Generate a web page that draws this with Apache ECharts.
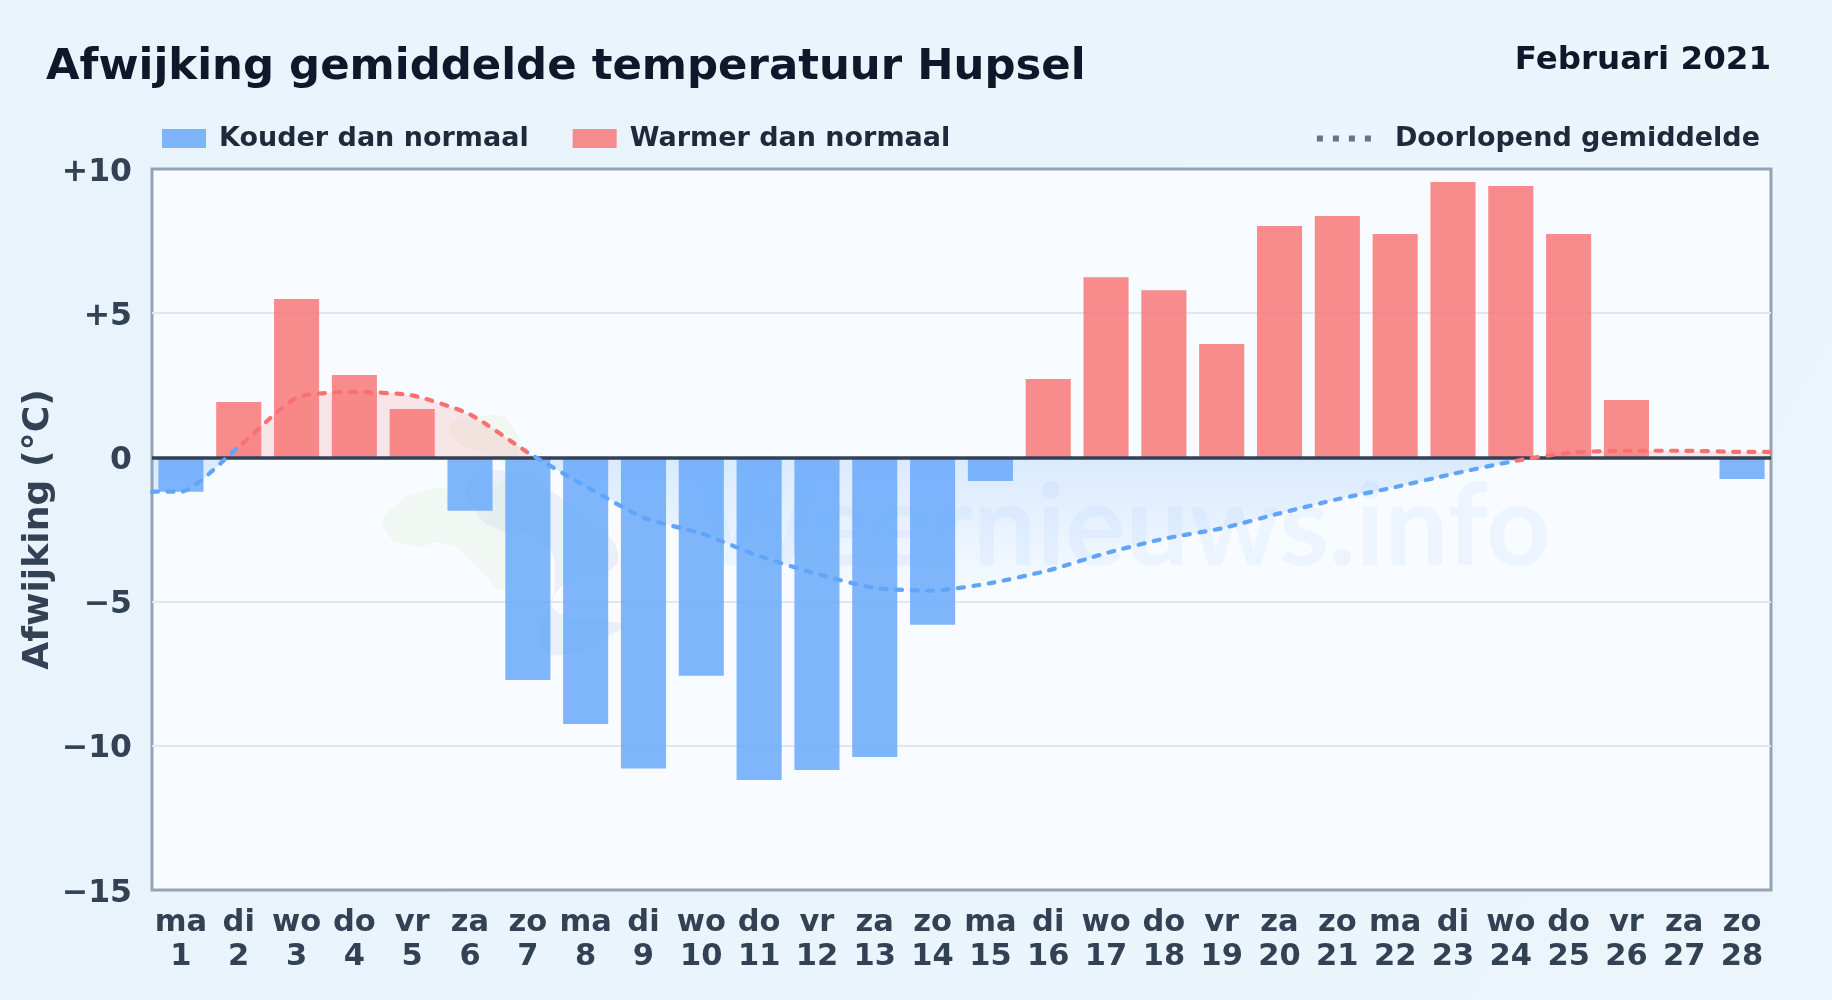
<!DOCTYPE html>
<html>
<head>
<meta charset="utf-8">
<style>html,body{margin:0;padding:0;background:#e9f3fb}#c{width:1832px;height:1000px}</style>
<script src="https://cdn.jsdelivr.net/npm/echarts@6/dist/echarts.min.js"></script>
</head>
<body>
<div id="c"></div>
<script>
const weekdays = ['ma','di','wo','do','vr','za','zo','ma','di','wo','do','vr','za','zo','ma','di','wo','do','vr','za','zo','ma','di','wo','do','vr','za','zo'];
const days = [1,2,3,4,5,6,7,8,9,10,11,12,13,14,15,16,17,18,19,20,21,22,23,24,25,26,27,28];
const deviation = [-1.19,1.92,5.49,2.86,1.68,-1.85,-7.72,-9.24,-10.79,-7.57,-11.19,-10.84,-10.39,-5.80,-0.82,2.72,6.25,5.80,3.93,8.02,8.37,7.75,9.55,9.41,7.75,1.99,0,-0.75];
const runningMean = [-1.19,0.37,2.07,2.27,2.15,1.49,0.17,-1.00,-2.09,-2.64,-3.42,-4.04,-4.53,-4.62,-4.36,-3.92,-3.32,-2.82,-2.46,-1.94,-1.45,-1.03,-0.57,-0.15,0.16,0.23,0.23,0.19];
const yTicks = {10:'+10',5:'+5',0:'0','-5':'\u22125','-10':'\u221210','-15':'\u221215'};
const colorDays = [2,7,24];

const BLUE='#60a5fa', RED='#f87171', BAR_BLUE='rgba(96,165,250,0.8)', BAR_RED='rgba(248,113,113,0.8)';
const G={left:152,top:169,right:1771,bottom:890};
const FONT='"DejaVu Sans"';
const categories=weekdays.map((w,i)=>w+'\n'+days[i]);
const cold=deviation.map(v=>v<0?v:null);
const warm=deviation.map(v=>v>0?v:null);
const linePts=[[0.5,runningMean[0]]].concat(days.map((d,i)=>[d,runningMean[i]]),[[28.5,runningMean[27]]]);
const zeroOffset=10/25, fadeOffset=15/25;
const areaFill=new echarts.graphic.LinearGradient(0,G.top,0,G.bottom,[
 {offset:0,color:'rgba(248,113,113,0.16)'},{offset:zeroOffset,color:'rgba(248,113,113,0.16)'},
 {offset:zeroOffset,color:'rgba(96,165,250,0.2)'},{offset:fadeOffset,color:'rgba(96,165,250,0)'},{offset:1,color:'rgba(96,165,250,0)'}],true);

const chart=echarts.init(document.getElementById('c'),null,{renderer:'canvas'});
chart.setOption({
 animation:false,
 backgroundColor:new echarts.graphic.LinearGradient(0,0,1,1,[{offset:0,color:'#e8f3fb'},{offset:1,color:'#ecf5fc'}]),
 textStyle:{fontFamily:FONT},
 title:[
  {text:'Afwijking gemiddelde temperatuur Hupsel',left:46,top:46,padding:0,textStyle:{fontFamily:FONT,fontWeight:'bold',fontSize:43.4,color:'#0f172a'}},
  {text:'Februari 2021',right:61,top:44.5,padding:0,textStyle:{fontFamily:FONT,fontWeight:'bold',fontSize:32.5,color:'#0f172a'}}
 ],
 legend:[
  {left:162,top:125,itemWidth:44,itemHeight:19,itemGap:44,padding:0,icon:'rect',data:['Kouder dan normaal','Warmer dan normaal'],
   textStyle:{fontFamily:FONT,fontWeight:'bold',fontSize:27,color:'#1e293b',padding:[0,0,0,8]}},
  {right:72,top:125,itemWidth:54,itemHeight:6,padding:0,
   data:[{name:'Doorlopend gemiddelde',icon:'path://M0 0h6v6h-6zM16 0h6v6h-6zM32 0h6v6h-6zM48 0h6v6h-6z',itemStyle:{color:'#64748b'}}],
   textStyle:{fontFamily:FONT,fontWeight:'bold',fontSize:27,color:'#1e293b',padding:[0,0,0,19]}}
 ],
 grid:{left:G.left,top:G.top,width:G.right-G.left,height:G.bottom-G.top,show:true,backgroundColor:'#f8fbff',borderColor:'#94a3b8',borderWidth:3},
 xAxis:[
  {type:'category',data:categories,position:'bottom',axisLine:{show:false,onZero:false},axisTick:{show:false},
   axisLabel:{interval:0,margin:16,fontFamily:FONT,fontWeight:'bold',fontSize:30.5,lineHeight:34,color:'#334155'}},
  {type:'value',min:0.5,max:28.5,show:false,splitLine:{show:false}}
 ],
 yAxis:{type:'value',min:-15,max:10,interval:5,
  name:'Afwijking (\u00b0C)',nameLocation:'middle',nameGap:95,nameRotate:90,nameMoveOverlap:false,
  nameTextStyle:{fontFamily:FONT,fontWeight:'bold',fontSize:36.2,color:'#334155'},
  axisLine:{show:false},axisTick:{show:false},
  axisLabel:{margin:20,formatter:v=>'{t|'+yTicks[v]+'}',
   rich:{t:{fontFamily:FONT,fontWeight:'bold',fontSize:31.5,color:'#334155',padding:[7,0,0,0]}}},
  splitLine:{show:true,showMinLine:false,showMaxLine:false,lineStyle:{color:'#e2e8f0',width:2}}},
 visualMap:{type:'piecewise',show:false,seriesIndex:3,dimension:0,pieces:[
  {lt:colorDays[0],color:BLUE},{gte:colorDays[0],lt:colorDays[1],color:RED},
  {gte:colorDays[1],lt:colorDays[2],color:BLUE},{gte:colorDays[2],color:RED}]},
 graphic:{elements:[
  {type:'polygon',z:1,silent:true,shape:{smooth:0.6,points:[[450,432],[490,415],[515,430],[517,457],[505,480],[470,490],[430,490],[390,510],[385,530],[410,545],[450,545],[480,570],[505,590],[530,575],[530,500],[510,470]]},style:{fill:'rgba(190,225,140,0.1)'}},
  {type:'polygon',z:1,silent:true,shape:{smooth:0.6,points:[[470,480],[510,472],[550,490],[590,525],[615,545],[610,570],[570,580],[555,610],[625,625],[620,630],[560,655],[540,640],[555,580],[540,540],[500,530],[475,510]]},style:{fill:'rgba(148,178,220,0.14)'}},
  {type:'text',z:1,silent:true,left:698,top:472,style:{text:'Weernieuws.info',font:'bold 113px Lato',fill:'rgba(96,165,250,0.08)'}}
 ]},
 series:[
  {name:'Kouder dan normaal',type:'bar',xAxisIndex:0,stack:'d',barWidth:'78%',data:cold,itemStyle:{color:BAR_BLUE},z:2},
  {name:'Warmer dan normaal',type:'bar',xAxisIndex:0,stack:'d',barWidth:'78%',data:warm,itemStyle:{color:BAR_RED},z:2},
  {name:'gebied',type:'line',xAxisIndex:1,data:linePts,smooth:0.2,showSymbol:false,symbol:'none',
   lineStyle:{width:0},areaStyle:{color:areaFill,opacity:1},z:3,silent:true,
   markLine:{silent:true,symbol:'none',label:{show:false},lineStyle:{color:'#334155',width:3.7,type:'solid'},data:[{yAxis:0}],z:4}},
  {name:'Doorlopend gemiddelde',type:'line',xAxisIndex:1,data:linePts,smooth:0.2,showSymbol:false,symbol:'none',
   lineStyle:{width:4.2,type:[6,9.5],cap:'round'},z:5,silent:true}
 ]
});
</script>
</body>
</html>
